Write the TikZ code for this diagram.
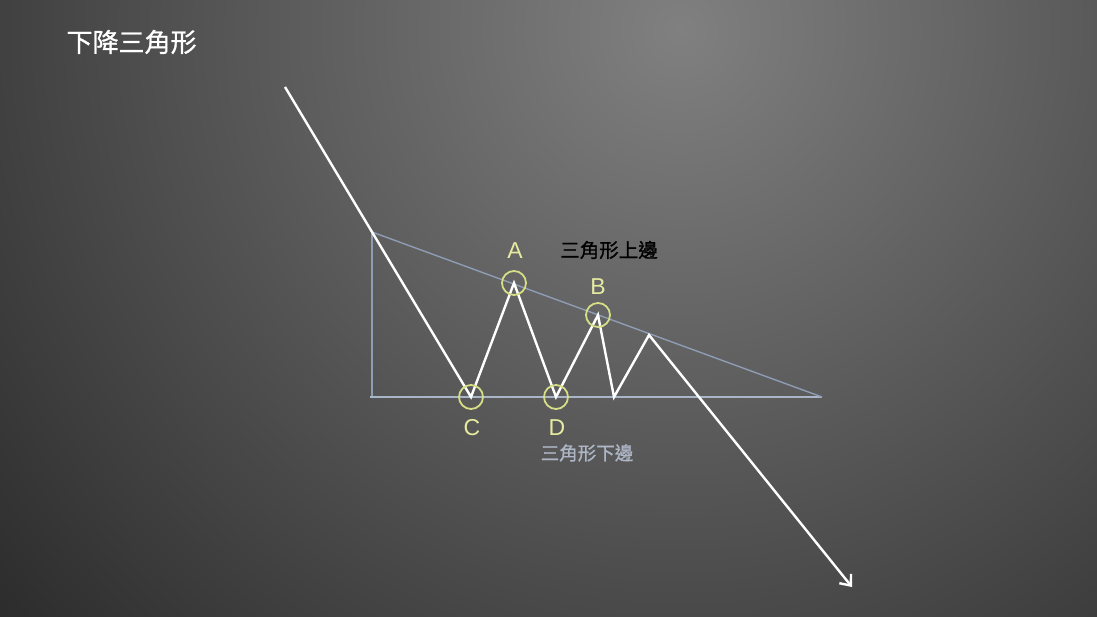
\documentclass[tikz,border=0pt]{standalone}
\usepackage{fontspec}
\setmainfont{Liberation Sans}
\newfontfamily\cjk{Noto Sans CJK TC}
\newfontfamily\cjkb[FakeBold=1.0]{Noto Sans CJK TC}
\usetikzlibrary{arrows.meta}
\definecolor{bgin}{HTML}{808080}
\definecolor{bgout}{HTML}{2C2C2C}
\definecolor{tri}{HTML}{8E9DB3}
\definecolor{tribase}{HTML}{A9B6C8}
\definecolor{ring}{HTML}{D6DE86}
\definecolor{lbl}{HTML}{E6EBA0}
\definecolor{lower}{HTML}{AEB6C6}
\tikzset{
  price/.style={draw=white, line width=2.4pt, line join=miter},
  triline/.style={draw=tri, line width=1.4pt},
  ringnode/.style={circle, draw=ring, line width=1.8pt, minimum size=24pt, inner sep=0pt},
  letter/.style={text=lbl, font=\fontsize{23}{23}\selectfont},
}
\begin{document}
\begin{tikzpicture}[x=1pt,y=-1pt]
\useasboundingbox (0,0) rectangle (1097,617);
\begin{scope}
\clip (0,0) rectangle (1097,617);
\fill[bgout] (0,0) rectangle (1097,617);
\shade[inner color=bgin, outer color=bgout] (680,30) circle (900);
\end{scope}
% title
\node[anchor=west, text=white, font=\cjkb\fontsize{26}{26}\selectfont] (title) at (63,42) {下降三角形};
% triangle
\coordinate (T) at (372,232);
\coordinate (Bl) at (370,397);
\coordinate (Bc) at (372,397);
\coordinate (R) at (822,397);
\draw[triline] (T) -- (Bc);
\draw[triline, draw=tribase] (Bl) -- (R);
\draw[triline] (T) -- (R);
% price path
\coordinate (S) at (285,87);
\coordinate (pC) at (471,397);
\coordinate (pA) at (514,283);
\coordinate (pD) at (556,397);
\coordinate (pB) at (598,315);
\coordinate (pE) at (614,397);
\coordinate (pF) at (649,335);
\coordinate (End) at (852,587);
\draw[price, -{Straight Barb[length=9pt,width=15pt,line width=2.4pt]}] (S) -- (pC) -- (pA) -- (pD) -- (pB) -- (pE) -- (pF) -- (End);
% rings
\node[ringnode] (A) at (pA) {};
\node[ringnode] (B) at (pB) {};
\node[ringnode] (C) at (pC) {};
\node[ringnode] (D) at (pD) {};
\node[letter] (lA) at (515,251) {A};
\node[letter] (lB) at (598,287) {B};
\node[letter] (lC) at (472,428) {C};
\node[letter] (lD) at (557,428) {D};
% labels
\node[text=black, font=\cjkb\fontsize{19.5}{19.5}\selectfont] (upper) at (609,250) {三角形上邊};
\node[text=lower, font=\cjkb\fontsize{18.5}{18.5}\selectfont] (lowerlbl) at (587,453) {三角形下邊};
\end{tikzpicture}
\end{document}
